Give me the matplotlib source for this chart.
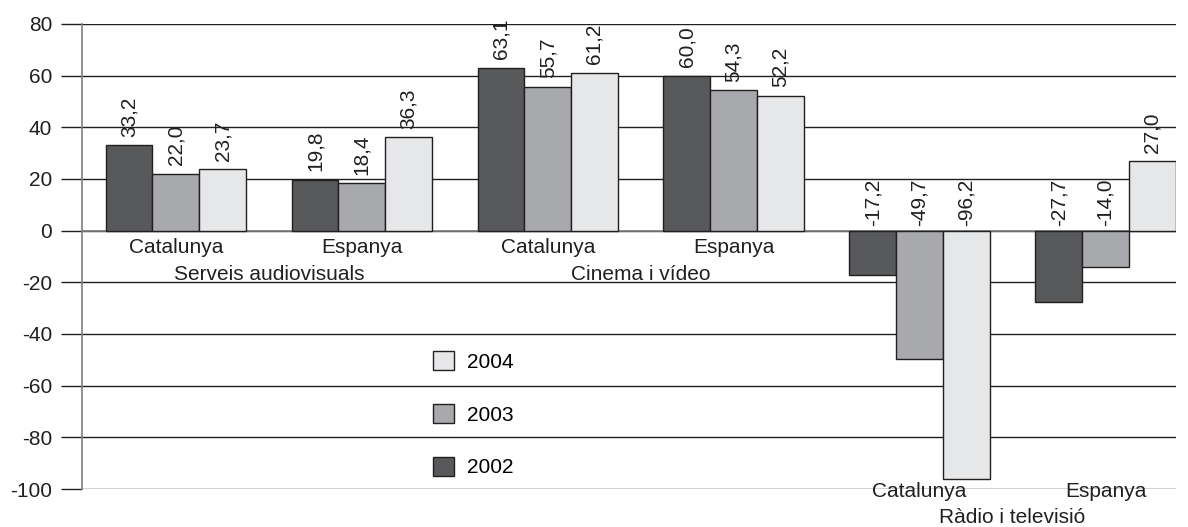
import numpy as np
import matplotlib.pyplot as plt
from matplotlib.patches import Patch

plt.rcParams['font.family'] = ['Liberation Sans', 'DejaVu Sans']

# dades
zones = ['Catalunya', 'Espanya', 'Catalunya', 'Espanya', 'Catalunya', 'Espanya']
sectors = ['Serveis audiovisuals', 'Cinema i vídeo', 'Ràdio i televisió']
years = ['2002', '2003', '2004']
v2002 = [33.2, 19.8, 63.1, 60.0, -17.2, -27.7]
v2003 = [22.0, 18.4, 55.7, 54.3, -49.7, -14.0]
v2004 = [23.7, 36.3, 61.2, 52.2, -96.2, 27.0]
yticks = [-100, -80, -60, -40, -20, 0, 20, 40, 60, 80]

colors = ['#58595b', '#a7a9ac', '#e6e7e8']
edge = '#231f20'
fs = 15

fig = plt.figure(figsize=(11.88, 5.27), dpi=100)
ax = fig.add_axes([0.069, 0.0721, 0.921, 0.8824])

x = np.arange(len(zones))
w = 0.2515
series = [v2002, v2003, v2004]
for k, vals in enumerate(series):
    pos = x + (k - 1) * w
    ax.bar(pos, vals, width=w, color=colors[k], edgecolor=edge, linewidth=1.0,
           zorder=3, label=years[k])
    for p, v in zip(pos, vals):
        lab = f'{v:.1f}'.replace('.', ',')
        base = v if v > 0 else 0
        off = 6 if v > 0 else 3.5
        ax.annotate(lab, (p, base), xytext=(0, off), textcoords='offset points',
                    rotation=90, ha='center', va='bottom', fontsize=fs,
                    color='#231f20', zorder=4)

ax.set_xlim(-0.505, 5.38)
ax.set_ylim(-100, 80)
ax.set_yticks(yticks)
ax.set_yticklabels([str(t) for t in yticks])
ax.set_xticks([])
ax.yaxis.grid(True, color=edge, linewidth=1.0, zorder=0)
ax.tick_params(axis='y', length=15, width=1.0, color=edge, pad=6.5,
               labelsize=fs, labelcolor='#231f20')
for s in ['top', 'right', 'bottom']:
    ax.spines[s].set_visible(False)
ax.spines['left'].set_color('#808080')
ax.spines['left'].set_linewidth(1.2)
ax.axhline(0, color='#808080', linewidth=1.2, zorder=2)

# etiquetes de categoria
zone_y = [-6.6, -6.6, -6.6, -6.6, -101, -101]
for xi, name, zy in zip(x, zones, zone_y):
    ax.text(xi, zy, name, ha='center', va='center', fontsize=fs, color='#231f20')
sector_y = [-17.0, -17.0, -111.0]
for j, name in enumerate(sectors):
    ax.text(2 * j + 0.5, sector_y[j], name, ha='center', va='center',
            fontsize=fs, color='#231f20', clip_on=False)

handles = [Patch(facecolor=colors[k], edgecolor=edge, linewidth=1.0, label=years[k])
           for k in range(3)][::-1]
ax.legend(handles=handles, loc='upper left', bbox_to_anchor=(0.321, 0.296),
          frameon=False, fontsize=fs, handlelength=1.0, handleheight=1.0,
          handletextpad=0.6, labelspacing=1.55, borderpad=0, borderaxespad=0)

fig.savefig('out.png', dpi=100)
